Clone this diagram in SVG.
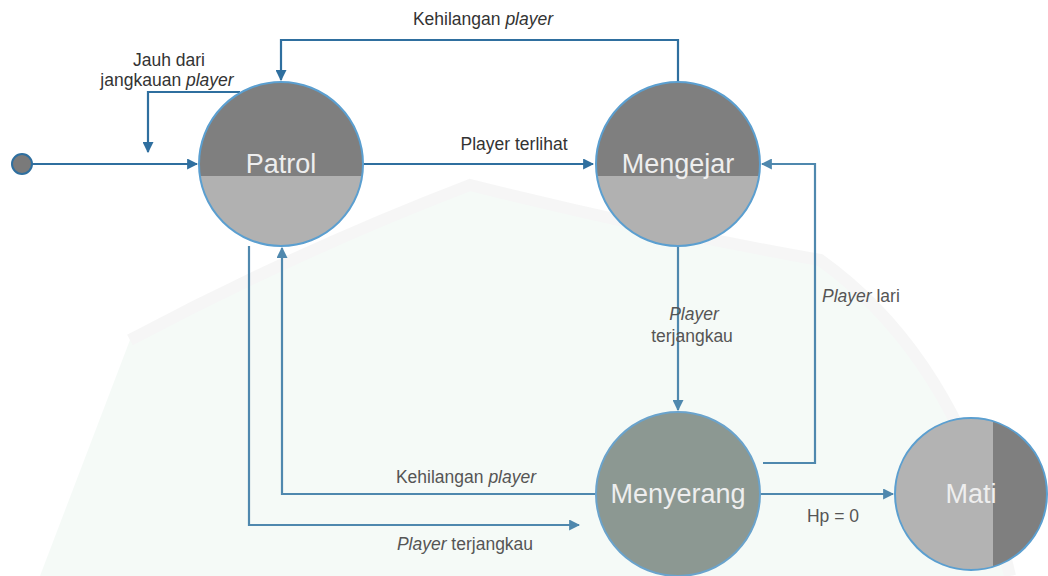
<svg xmlns="http://www.w3.org/2000/svg" width="1048" height="576" viewBox="0 0 1048 576">
<style>
.lbl{font-family:"Liberation Sans",Arial,sans-serif;font-size:17.5px;fill:#333}
.lbl2{font-family:"Liberation Sans",Arial,sans-serif;font-size:17.5px;fill:#555}
.name{font-family:"Liberation Sans",Arial,sans-serif;font-size:27px;fill:#eeeeee;text-anchor:middle}
.c1{fill:none;stroke:#2f6f9f;stroke-width:2.2}
.c2{fill:none;stroke:#4f88ae;stroke-width:2.2}
.ring{fill:none;stroke:#5b9fd0;stroke-width:2}
</style>
<defs>
<marker id="a1" viewBox="0 0 10 10" refX="9" refY="5" markerWidth="5" markerHeight="5" orient="auto"><path d="M0,0 L10,5 L0,10 z" fill="#2f6f9f"/></marker>
<marker id="a2" viewBox="0 0 10 10" refX="9" refY="5" markerWidth="5" markerHeight="5" orient="auto"><path d="M0,0 L10,5 L0,10 z" fill="#4f88ae"/></marker>
<clipPath id="cp"><circle cx="281" cy="164" r="82"/></clipPath>
<clipPath id="cm"><circle cx="678" cy="164" r="82"/></clipPath>
<clipPath id="ct"><circle cx="971" cy="494" r="76"/></clipPath>
</defs>
<rect width="1048" height="576" fill="#ffffff"/>
<g id="watermark" opacity="0.45">
<path d="M40,576 L130,340 Q300,250 470,185 Q650,230 820,260 Q960,360 1010,576 Z" fill="#eaf5ef"/>
<path d="M130,340 Q300,250 470,185 Q650,230 820,260 Q960,360 1010,576" fill="none" stroke="#ececec" stroke-width="12"/>
</g>
<g id="connectors">
<line class="c1" x1="32" y1="164" x2="197" y2="164" marker-end="url(#a1)"/>
<path class="c1" d="M240,92 H148 V152" marker-end="url(#a1)"/>
<line class="c1" x1="363" y1="164" x2="593" y2="164" marker-end="url(#a1)"/>
<path class="c1" d="M678,82 V40 H281 V80" marker-end="url(#a1)"/>
<path class="c2" d="M678,246 V410" marker-end="url(#a2)"/>
<path class="c2" d="M763,463 H815 V164 H762" marker-end="url(#a2)"/>
<path class="c2" d="M595,494 H282 V248" marker-end="url(#a2)"/>
<path class="c2" d="M249,246 V525 H579" marker-end="url(#a2)"/>
<line class="c2" x1="760" y1="494" x2="893" y2="494" marker-end="url(#a2)"/>
<text class="lbl" x="169" y="66" text-anchor="middle">Jauh dari</text>
<text class="lbl" x="167" y="86" text-anchor="middle">jangkauan <tspan font-style="italic">player</tspan></text>
<text class="lbl" x="483" y="25" text-anchor="middle">Kehilangan <tspan font-style="italic">player</tspan></text>
<text class="lbl" x="514" y="150" text-anchor="middle">Player terlihat</text>
<text class="lbl2" x="694" y="320" text-anchor="middle" font-style="italic">Player</text>
<text class="lbl2" x="692" y="342" text-anchor="middle">terjangkau</text>
<text class="lbl2" x="822" y="302"><tspan font-style="italic">Player</tspan> lari</text>
<text class="lbl2" x="466" y="483" text-anchor="middle">Kehilangan <tspan font-style="italic">player</tspan></text>
<text class="lbl2" x="465" y="550" text-anchor="middle"><tspan font-style="italic">Player</tspan> terjangkau</text>
<text class="lbl2" x="833" y="522" text-anchor="middle">Hp = 0</text>
</g>
<g id="start">
<circle cx="22" cy="164" r="10" fill="#7a7a7a" stroke="#2f6f9f" stroke-width="2"/>
</g>
<g id="patrol">
<g clip-path="url(#cp)">
<rect x="199" y="82" width="164" height="94" fill="#7f7f7f"/>
<rect x="199" y="176" width="164" height="70" fill="#b1b1b1"/>
</g>
<circle class="ring" cx="281" cy="164" r="82"/>
<text class="name" x="281" y="173">Patrol</text>
</g>
<g id="mengejar">
<g clip-path="url(#cm)">
<rect x="596" y="82" width="164" height="94" fill="#7f7f7f"/>
<rect x="596" y="176" width="164" height="70" fill="#b1b1b1"/>
</g>
<circle class="ring" cx="678" cy="164" r="82"/>
<text class="name" x="678" y="173">Mengejar</text>
</g>
<g id="menyerang">
<circle cx="678" cy="494" r="82" fill="#8c9892" stroke="#6aa3cc" stroke-width="2"/>
<text class="name" x="678" y="503" fill="#e4e8e6">Menyerang</text>
</g>
<g id="mati">
<g clip-path="url(#ct)">
<rect x="895" y="418" width="98" height="152" fill="#b3b3b3"/>
<rect x="993" y="418" width="56" height="152" fill="#7f7f7f"/>
</g>
<circle class="ring" cx="971" cy="494" r="76"/>
<text class="name" x="971" y="503">Mati</text>
</g>
</svg>
